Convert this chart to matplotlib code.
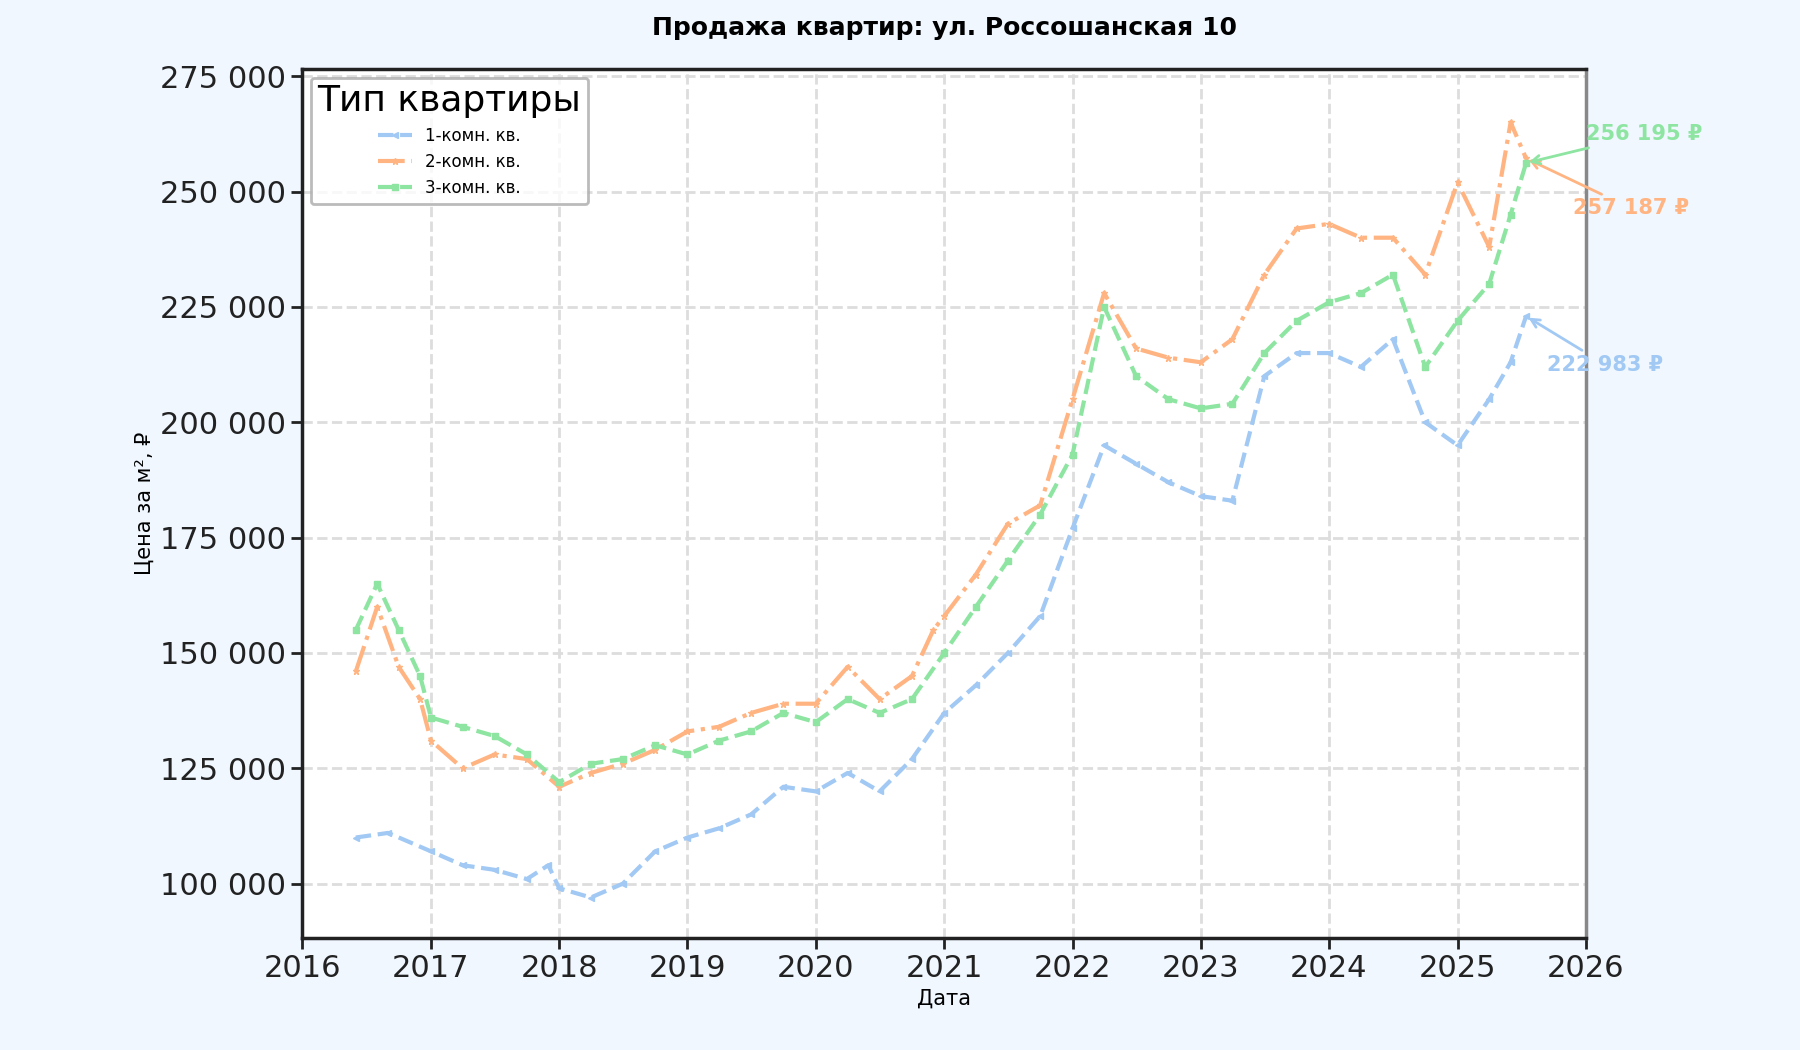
import matplotlib
matplotlib.use("Agg")
import matplotlib.pyplot as plt
import matplotlib.dates as mdates
import pandas as pd

dates1 = ["2016-06-01","2016-09-01","2017-01-01","2017-04-01","2017-07-01","2017-10-01","2017-12-01","2018-01-01","2018-04-01","2018-07-01","2018-10-01","2019-01-01","2019-04-01","2019-07-01","2019-10-01","2020-01-01","2020-04-01","2020-07-01","2020-10-01","2021-01-01","2021-04-01","2021-07-01","2021-10-01","2022-01-01","2022-04-01","2022-07-01","2022-10-01","2023-01-01","2023-04-01","2023-07-01","2023-10-01","2024-01-01","2024-04-01","2024-07-01","2024-10-01","2025-01-01","2025-04-01","2025-06-01","2025-07-15"]
vals1 = [110,111,107,104,103,101,104,99,97,100,107,110,112,115,121,120,124,120,127,137,143,150,158,177,195,191,187,184,183,210,215,215,212,218,200,195,205,213,222.983]

dates2 = ["2016-06-01","2016-08-01","2016-10-01","2016-12-01","2017-01-01","2017-04-01","2017-07-01","2017-10-01","2018-01-01","2018-04-01","2018-07-01","2018-10-01","2019-01-01","2019-04-01","2019-07-01","2019-10-01","2020-01-01","2020-04-01","2020-07-01","2020-10-01","2020-12-01","2021-01-01","2021-04-01","2021-07-01","2021-10-01","2022-01-01","2022-04-01","2022-07-01","2022-10-01","2023-01-01","2023-04-01","2023-07-01","2023-10-01","2024-01-01","2024-04-01","2024-07-01","2024-10-01","2025-01-01","2025-04-01","2025-06-01","2025-07-15"]
vals2 = [146,160,147,140,131,125,128,127,121,124,126,129,133,134,137,139,139,147,140,145,155,158,167,178,182,205,228,216,214,213,218,232,242,243,240,240,232,252,238,265,257.187]

dates3 = ["2016-06-01","2016-08-01","2016-10-01","2016-12-01","2017-01-01","2017-04-01","2017-07-01","2017-10-01","2018-01-01","2018-04-01","2018-07-01","2018-10-01","2019-01-01","2019-04-01","2019-07-01","2019-10-01","2020-01-01","2020-04-01","2020-07-01","2020-10-01","2021-01-01","2021-04-01","2021-07-01","2021-10-01","2022-01-01","2022-04-01","2022-07-01","2022-10-01","2023-01-01","2023-04-01","2023-07-01","2023-10-01","2024-01-01","2024-04-01","2024-07-01","2024-10-01","2025-01-01","2025-04-01","2025-06-01","2025-07-15"]
vals3 = [155,165,155,145,136,134,132,128,122,126,127,130,128,131,133,137,135,140,137,140,150,160,170,180,193,225,210,205,203,204,215,222,226,228,232,212,222,230,245,256.195]

labels = ["1-комн. кв.", "2-комн. кв.", "3-комн. кв."]
colors = ["#a1c9f4", "#ffb482", "#8de5a1"]
markers = ["<", "*", "s"]
styles = ["--", "-.", "--"]
last_labels = ["222 983 ₽", "257 187 ₽", "256 195 ₽"]
label_pos = [(0.97, 0.66), (0.99, 0.84), (1.0, 0.925)]

fig = plt.figure(figsize=(18, 10.5), dpi=100, facecolor="#f0f7ff")
ax = fig.add_axes([0.168, 0.107, 0.713, 0.827])
ax.set_facecolor("white")

series = [(dates1, vals1), (dates2, vals2), (dates3, vals3)]
for (d, v), lab, c, m, ls, ll, pos in zip(series, labels, colors, markers, styles, last_labels, label_pos):
    x = pd.to_datetime(d, format="%Y-%m-%d")
    y = [val * 1000 for val in v]
    ax.plot(x, y, linestyle=ls, marker=m, markersize=5, linewidth=3, color=c, label=lab)
    ax.annotate(ll, xy=(x[-1], y[-1]), xytext=pos, textcoords="axes fraction",
                color=c, fontsize=15, fontweight="bold", ha="left", va="center",
                arrowprops=dict(arrowstyle="->", color=c, lw=2))

ax.set_xlim(pd.Timestamp("2016-01-01"), pd.Timestamp("2026-01-01"))
ax.set_ylim(88300, 276500)
ax.xaxis.set_major_locator(mdates.YearLocator())
ax.xaxis.set_major_formatter(mdates.DateFormatter("%Y"))
ax.yaxis.set_major_locator(plt.MultipleLocator(25000))
ax.yaxis.set_major_formatter(plt.FuncFormatter(lambda v, p: f"{int(v):,}".replace(",", " ")))
ax.tick_params(labelsize=22, length=8, width=2, colors="#222222")
ax.grid(True, linestyle="--", color="#dddddd", linewidth=2)
for s in ["left", "bottom", "top"]:
    ax.spines[s].set_linewidth(2.5)
    ax.spines[s].set_color("#222222")
ax.spines["right"].set_color("#888888")
ax.spines["right"].set_linewidth(2.5)

ax.set_xlabel("Дата", fontsize=15)
ax.set_ylabel("Цена за м², ₽", fontsize=15)
ax.set_title("Продажа квартир: ул. Россошанская 10", fontsize=18, fontweight="bold", pad=25)
leg = ax.legend(title="Тип квартиры", loc="upper left", fontsize=12, title_fontsize=26,
                frameon=True, edgecolor="#aaaaaa")
leg.get_frame().set_linewidth(2)

fig.savefig("out.png", dpi=100, facecolor=fig.get_facecolor())
